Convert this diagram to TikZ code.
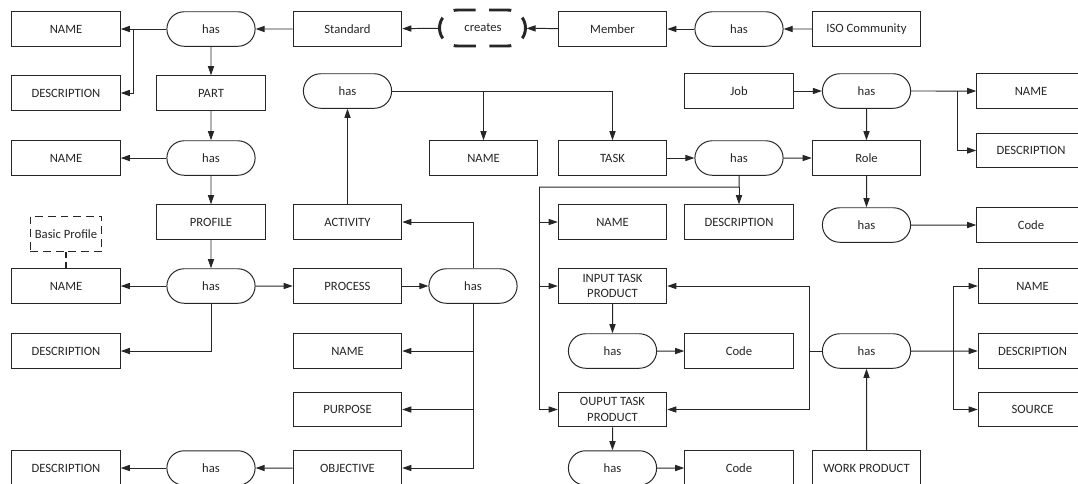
\documentclass[tikz,border=0pt]{standalone}
\usepackage{fontspec}
\setmainfont{Carlito}
\usetikzlibrary{shapes.misc,arrows.meta}

\begin{document}
\begin{tikzpicture}[x=0.025cm, y=-0.025cm, line width=0.7pt, color=black!85,
    >={Triangle[length=6.5pt,width=4.4pt]},
    every node/.style={font=\fontsize{9pt}{10.8pt}\selectfont},
    entity/.style={rectangle, draw, minimum width=2.7125cm, minimum height=0.8625cm, inner sep=1pt, align=center},
    relation/.style={rounded rectangle, draw, minimum width=2.275cm, minimum height=0.8625cm, inner sep=1pt},
    note/.style={rectangle, draw, line width=1pt, dash pattern=on 5.5pt off 3.5pt, minimum width=1.775cm, minimum height=0.875cm, inner sep=1pt},
    creatline/.style={line width=2.1pt, dash pattern=on 0.55cm off 0.3375cm, dash phase=0.275cm}]
    \useasboundingbox (0,0) rectangle (1078,483);

    % ノード (1段目)
    \node[entity] (stdname) at (66,29) {NAME};
    \node[relation] (hasstd) at (211,29) {has};
    \node[entity] (std) at (347.5,29) {Standard};
    \node[minimum width=2.15cm, minimum height=0.9cm, inner sep=0pt] (creates) at (483,28) {creates};
    \node[entity] (member) at (612.5,29) {Member};
    \node[relation] (hasiso) at (739,29) {has};
    \node[entity] (iso) at (866.5,29) {ISO Community};

    % ノード (2段目)
    \node[entity] (stddesc) at (66,93) {DESCRIPTION};
    \node[entity] (part) at (211,93) {PART};
    \node[relation] (hasact) at (347.5,91) {has};
    \node[entity] (job) at (739,91) {Job};
    \node[relation] (hasjob) at (866.5,91) {has};
    \node[entity] (jobname) at (1031,91) {NAME};

    % ノード (3段目)
    \node[entity] (partname) at (66,158) {NAME};
    \node[relation] (haspart) at (211,158) {has};
    \node[entity] (actname) at (483.5,158) {NAME};
    \node[entity] (task) at (612.5,158) {TASK};
    \node[relation] (hastask) at (739,158) {has};
    \node[entity] (role) at (866.5,158) {Role};
    \node[entity] (jobdesc) at (1031,150.5) {DESCRIPTION};

    % ノード (4段目)
    \node[note] (basic) at (66,234) {Basic Profile};
    \node[entity] (profile) at (211,222) {PROFILE};
    \node[entity] (activity) at (347.5,222) {ACTIVITY};
    \node[entity] (taskname) at (612.5,222) {NAME};
    \node[entity] (taskdesc) at (739,222) {DESCRIPTION};
    \node[relation] (hasrole) at (866.5,225) {has};
    \node[entity] (rolecode) at (1031,225) {Code};

    % ノード (5段目から下)
    \node[entity] (profname) at (66,286) {NAME};
    \node[relation] (hasprof) at (211,286) {has};
    \node[entity] (process) at (347.5,286) {PROCESS};
    \node[relation] (hasproc) at (473,286) {has};
    \node[entity] (input) at (612.5,286) {INPUT TASK\\PRODUCT};
    \node[entity] (wpname) at (1032.5,286) {NAME};

    \node[entity] (profdesc) at (66,351) {DESCRIPTION};
    \node[entity] (procname) at (347.5,351) {NAME};
    \node[relation] (hasin) at (612.5,351) {has};
    \node[entity] (incode) at (739,351) {Code};
    \node[relation] (haswp) at (866.5,351) {has};
    \node[entity] (wpdesc) at (1032.5,351) {DESCRIPTION};

    \node[entity] (purpose) at (347.5,409.5) {PURPOSE};
    \node[entity] (output) at (612.5,409.5) {OUPUT TASK\\PRODUCT};
    \node[entity] (wpsrc) at (1032.5,409.5) {SOURCE};

    \node[entity] (objdesc) at (66,468) {DESCRIPTION};
    \node[relation] (hasobj) at (211,468) {has};
    \node[entity] (objective) at (347.5,468) {OBJECTIVE};
    \node[relation] (hasout) at (612.5,468) {has};
    \node[entity] (outcode) at (739,468) {Code};
    \node[entity] (wp) at (866.5,468) {WORK PRODUCT};

    % creates の枠
    \draw[creatline] (creates.west) arc[start angle=180, end angle=90, radius=18] -- ++(50,0)
        arc[start angle=90, end angle=-90, radius=18] -- ++(-50,0)
        arc[start angle=270, end angle=180, radius=18] -- cycle;

    % 分岐点
    \coordinate (b1) at (133,29);
    \coordinate (t1) at (739,187);
    \coordinate (split) at (539,187);
    \coordinate (b2) at (957,91);
    \coordinate (b3) at (809,351);
    \coordinate (b4) at (953,351);

    % エッジ
    \draw[->] (iso) -- (hasiso);
    \draw[->] (hasiso) -- (member);
    \draw[->] (member) -- (creates);
    \draw[->] (creates) -- (std);
    \draw[->] (std) -- (hasstd);
    \draw[->] (hasstd) -- (stdname);
    \draw[->] (b1) |- (stddesc);
    \draw[->] (hasstd) -- (part);
    \draw[->] (part) -- (haspart);
    \draw[->] (haspart) -- (partname);
    \draw[->] (haspart) -- (profile);
    \draw[->] (profile) -- (hasprof);
    \draw[->] (hasprof) -- (profname);
    \draw[->] (hasprof) |- (profdesc);
    \draw[->] (hasprof) -- (process);
    \draw[line width=1pt, dash pattern=on 4pt off 3pt] (basic) -- (profname);
    \draw[->] (process) -- (hasproc);
    \draw[->] (hasproc) |- (activity);
    \draw[->] (hasproc) |- (procname);
    \draw[->] (hasproc) |- (purpose);
    \draw[->] (hasproc) |- (objective);
    \draw[->] (objective) -- (hasobj);
    \draw[->] (hasobj) -- (objdesc);
    \draw[->] (activity) -- (hasact);
    \draw[->] (hasact) -| (task);
    \draw[->] (actname |- hasact) -- (actname);
    \draw[->] (task) -- (hastask);
    \draw[->] (hastask) -- (role);
    \draw (hastask) -- (t1) -- (split);
    \draw[->] (t1) -- (taskdesc);
    \draw[->] (split) |- (taskname);
    \draw[->] (split) |- (input);
    \draw[->] (split) |- (output);
    \draw[->] (job) -- (hasjob);
    \draw[->] (hasjob) -- (jobname);
    \draw[->] (b2) |- (jobdesc);
    \draw[->] (hasjob) -- (role);
    \draw[->] (role) -- (hasrole);
    \draw[->] (hasrole) -- (rolecode);
    \draw[->] (input) -- (hasin);
    \draw[->] (hasin) -- (incode);
    \draw[->] (output) -- (hasout);
    \draw[->] (hasout) -- (outcode);
    \draw (haswp) -- (b3);
    \draw[->] (b3) |- (input);
    \draw[->] (b3) |- (output);
    \draw[->] (haswp) -- (wpdesc);
    \draw[->] (b4) |- (wpname);
    \draw[->] (b4) |- (wpsrc);
    \draw[->] (wp) -- (haswp);
\end{tikzpicture}
\end{document}
